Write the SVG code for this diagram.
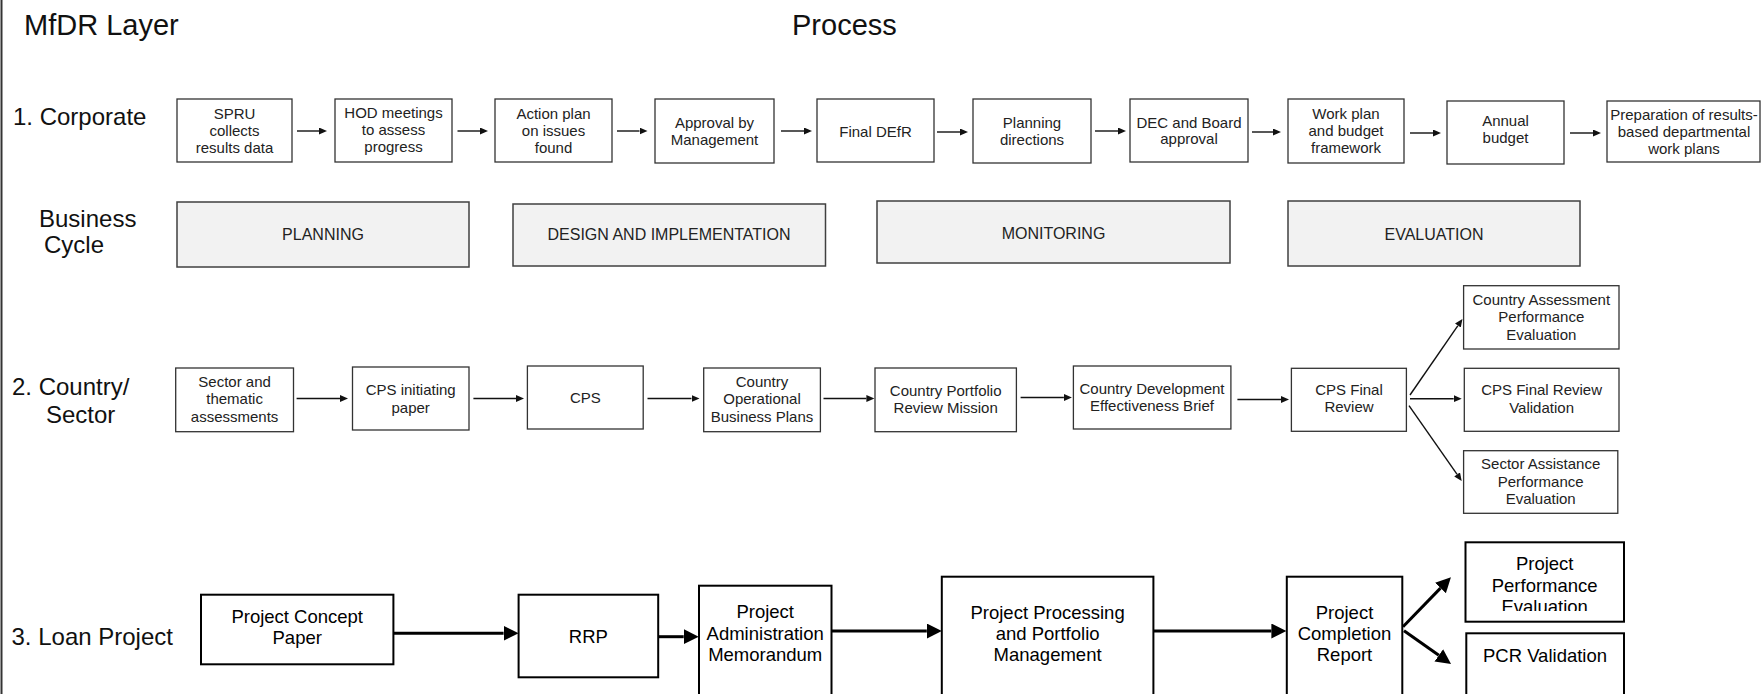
<svg xmlns="http://www.w3.org/2000/svg" width="1762" height="694" viewBox="0 0 1762 694">
<style>
text{font-family:"Liberation Sans",Arial,sans-serif;}
.lbl{font-size:24px;fill:#111;}
.ttl{font-size:29px;fill:#111;}
.bx{fill:#fff;stroke:#333;stroke-width:1.3;}
.bt{font-size:15px;fill:#222;text-anchor:middle;}
.cy{fill:#f2f2f2;stroke:#404040;stroke-width:1.5;}
.ct{font-size:16px;fill:#222;text-anchor:middle;}
.lb{fill:#fff;stroke:#000;stroke-width:2;}
.lt{font-size:18.5px;fill:#000;text-anchor:middle;}
.thin{stroke:#111;stroke-width:1.4;fill:none;}
.thick{stroke:#000;stroke-width:3;fill:none;}
</style>
<defs>
<marker id="ah" markerUnits="userSpaceOnUse" markerWidth="9" markerHeight="8" refX="0" refY="3.5" orient="auto">
<path d="M0,0 L8,3.5 L0,7 z" fill="#111"/>
</marker>
<marker id="ahL" markerUnits="userSpaceOnUse" markerWidth="16" markerHeight="16" refX="0" refY="7.5" orient="auto">
<path d="M0,0 L15,7.5 L0,15 z" fill="#000"/>
</marker>
<clipPath id="clipPPE"><rect x="1466" y="543" width="157" height="68"/></clipPath>
</defs>
<rect x="0" y="0" width="1762" height="694" fill="#fff"/>
<line x1="1.5" y1="0" x2="1.5" y2="694" stroke="#333" stroke-width="2"/>

<g id="labels">
<text class="ttl" x="24" y="35">MfDR Layer</text>
<text class="ttl" x="792" y="35">Process</text>
<text class="lbl" x="13" y="125">1. Corporate</text>
<text class="lbl" x="39" y="227">Business</text>
<text class="lbl" x="44" y="253">Cycle</text>
<text class="lbl" x="12" y="395">2. Country/</text>
<text class="lbl" x="46" y="422.5">Sector</text>
<text class="lbl" x="11.5" y="645">3. Loan Project</text>
</g>

<g id="corp1"><rect class="bx" x="177" y="99" width="115" height="63"/><text class="bt" x="234.5"><tspan x="234.5" y="118.5">SPRU</tspan><tspan x="234.5" y="135.5">collects</tspan><tspan x="234.5" y="152.5">results data</tspan></text></g>
<g id="corp2"><rect class="bx" x="335" y="99" width="117" height="63"/><text class="bt"><tspan x="393.5" y="118">HOD meetings</tspan><tspan x="393.5" y="135">to assess</tspan><tspan x="393.5" y="152">progress</tspan></text></g>
<g id="corp3"><rect class="bx" x="495" y="99" width="117" height="63"/><text class="bt"><tspan x="553.5" y="118.5">Action plan</tspan><tspan x="553.5" y="135.5">on issues</tspan><tspan x="553.5" y="152.5">found</tspan></text></g>
<g id="corp4"><rect class="bx" x="655" y="99" width="119" height="64"/><text class="bt"><tspan x="714.5" y="128">Approval by</tspan><tspan x="714.5" y="144.5">Management</tspan></text></g>
<g id="corp5"><rect class="bx" x="817" y="99" width="117" height="63"/><text class="bt" x="875.5" y="136.5">Final DEfR</text></g>
<g id="corp6"><rect class="bx" x="973" y="99" width="118" height="64"/><text class="bt"><tspan x="1032" y="128">Planning</tspan><tspan x="1032" y="144.5">directions</tspan></text></g>
<g id="corp7"><rect class="bx" x="1130" y="99" width="118" height="63"/><text class="bt"><tspan x="1189" y="127.7">DEC and Board</tspan><tspan x="1189" y="143.5">approval</tspan></text></g>
<g id="corp8"><rect class="bx" x="1288" y="99" width="116" height="64"/><text class="bt"><tspan x="1346" y="119">Work plan</tspan><tspan x="1346" y="135.7">and budget</tspan><tspan x="1346" y="152.7">framework</tspan></text></g>
<g id="corp9"><rect class="bx" x="1447" y="101" width="117" height="63"/><text class="bt"><tspan x="1505.5" y="126">Annual</tspan><tspan x="1505.5" y="143">budget</tspan></text></g>
<g id="corp10"><rect class="bx" x="1607" y="101" width="153" height="61"/><text class="bt"><tspan x="1684" y="119.5">Preparation of results-</tspan><tspan x="1684" y="137">based departmental</tspan><tspan x="1684" y="154">work plans</tspan></text></g>

<g id="cyc1"><rect class="cy" x="177" y="202" width="292" height="65"/><text class="ct" x="323" y="240">PLANNING</text></g>
<g id="cyc2"><rect class="cy" x="513" y="204" width="312.5" height="62"/><text class="ct" x="669" y="240">DESIGN AND IMPLEMENTATION</text></g>
<g id="cyc3"><rect class="cy" x="877" y="201" width="353" height="62"/><text class="ct" x="1053.5" y="238.5">MONITORING</text></g>
<g id="cyc4"><rect class="cy" x="1288" y="201" width="292" height="65"/><text class="ct" x="1434" y="239.5">EVALUATION</text></g>

<g id="ctry1"><rect class="bx" x="175.7" y="368" width="117.8" height="63.7"/><text class="bt"><tspan x="234.6" y="387.3">Sector and</tspan><tspan x="234.6" y="404">thematic</tspan><tspan x="234.6" y="421.5">assessments</tspan></text></g>
<g id="ctry2"><rect class="bx" x="352.5" y="367" width="116.5" height="63"/><text class="bt"><tspan x="410.7" y="395">CPS initiating</tspan><tspan x="410.7" y="412.5">paper</tspan></text></g>
<g id="ctry3"><rect class="bx" x="527.4" y="366" width="115.8" height="63"/><text class="bt" x="585.3" y="402.7">CPS</text></g>
<g id="ctry4"><rect class="bx" x="703.7" y="368" width="116.7" height="63.7"/><text class="bt"><tspan x="762" y="386.7">Country</tspan><tspan x="762" y="404">Operational</tspan><tspan x="762" y="421.7">Business Plans</tspan></text></g>
<g id="ctry5"><rect class="bx" x="875" y="368" width="141.4" height="63.7"/><text class="bt"><tspan x="945.7" y="395.7">Country Portfolio</tspan><tspan x="945.7" y="412.7">Review Mission</tspan></text></g>
<g id="ctry6"><rect class="bx" x="1073.4" y="366" width="157.5" height="63"/><text class="bt"><tspan x="1152" y="394">Country Development</tspan><tspan x="1152" y="411">Effectiveness Brief</tspan></text></g>
<g id="ctry7"><rect class="bx" x="1291.4" y="368.3" width="115" height="63"/><text class="bt"><tspan x="1349" y="395">CPS Final</tspan><tspan x="1349" y="412.3">Review</tspan></text></g>
<g id="ctry8"><rect class="bx" x="1463.6" y="285.7" width="155.4" height="63.3"/><text class="bt"><tspan x="1541.3" y="305">Country Assessment</tspan><tspan x="1541.3" y="322.3">Performance</tspan><tspan x="1541.3" y="339.7">Evaluation</tspan></text></g>
<g id="ctry9"><rect class="bx" x="1464.3" y="368.3" width="154.7" height="63"/><text class="bt"><tspan x="1541.6" y="395">CPS Final Review</tspan><tspan x="1541.6" y="412.7">Validation</tspan></text></g>
<g id="ctry10"><rect class="bx" x="1463.6" y="450.7" width="154.2" height="62.6"/><text class="bt"><tspan x="1540.7" y="469">Sector Assistance</tspan><tspan x="1540.7" y="486.7">Performance</tspan><tspan x="1540.7" y="504.3">Evaluation</tspan></text></g>

<g id="loan1"><rect class="lb" x="201" y="594.7" width="192.4" height="69.6"/><text class="lt"><tspan x="297.2" y="622.7">Project Concept</tspan><tspan x="297.2" y="644.3">Paper</tspan></text></g>
<g id="loan2"><rect class="lb" x="518.6" y="594.7" width="139.6" height="82.6"/><text class="lt" x="588.4" y="642.7">RRP</text></g>
<g id="loan3"><rect class="lb" x="699" y="585.7" width="132.5" height="130"/><text class="lt"><tspan x="765.2" y="618">Project</tspan><tspan x="765.2" y="639.5">Administration</tspan><tspan x="765.2" y="660.5">Memorandum</tspan></text></g>
<g id="loan4"><rect class="lb" x="941.8" y="576.7" width="211.6" height="140"/><text class="lt"><tspan x="1047.6" y="619">Project Processing</tspan><tspan x="1047.6" y="640">and Portfolio</tspan><tspan x="1047.6" y="661">Management</tspan></text></g>
<g id="loan5"><rect class="lb" x="1286.8" y="576.7" width="115.5" height="140"/><text class="lt"><tspan x="1344.5" y="619">Project</tspan><tspan x="1344.5" y="640">Completion</tspan><tspan x="1344.5" y="661">Report</tspan></text></g>
<g id="loan6"><rect class="lb" x="1465.5" y="542.3" width="158.5" height="79.4"/><text class="lt" clip-path="url(#clipPPE)"><tspan x="1544.7" y="570">Project</tspan><tspan x="1544.7" y="591.5">Performance</tspan><tspan x="1544.7" y="613">Evaluation</tspan></text></g>
<g id="loan7"><rect class="lb" x="1466.3" y="633.3" width="157.7" height="90"/><text class="lt" x="1545" y="661.7">PCR Validation</text></g>

<g id="connectors">
<line class="thin" x1="297" y1="131" x2="319" y2="131" marker-end="url(#ah)"/>
<line class="thin" x1="457.5" y1="131" x2="480" y2="131" marker-end="url(#ah)"/>
<line class="thin" x1="617" y1="131" x2="639.5" y2="131" marker-end="url(#ah)"/>
<line class="thin" x1="781" y1="131" x2="804" y2="131" marker-end="url(#ah)"/>
<line class="thin" x1="937" y1="132" x2="960" y2="132" marker-end="url(#ah)"/>
<line class="thin" x1="1095" y1="131" x2="1118" y2="131" marker-end="url(#ah)"/>
<line class="thin" x1="1252" y1="132" x2="1273" y2="132" marker-end="url(#ah)"/>
<line class="thin" x1="1410" y1="133" x2="1433" y2="133" marker-end="url(#ah)"/>
<line class="thin" x1="1570" y1="133" x2="1593" y2="133" marker-end="url(#ah)"/>

<line class="thin" x1="296.6" y1="398.5" x2="340" y2="398.5" marker-end="url(#ah)"/>
<line class="thin" x1="473.4" y1="398.5" x2="516" y2="398.5" marker-end="url(#ah)"/>
<line class="thin" x1="647.5" y1="398.5" x2="691.5" y2="398.5" marker-end="url(#ah)"/>
<line class="thin" x1="823.5" y1="398.5" x2="866.4" y2="398.5" marker-end="url(#ah)"/>
<line class="thin" x1="1020.6" y1="397.5" x2="1063.9" y2="397.5" marker-end="url(#ah)"/>
<line class="thin" x1="1237.4" y1="399.5" x2="1281" y2="399.5" marker-end="url(#ah)"/>
<line class="thin" x1="1410" y1="395" x2="1457.9" y2="325.6" marker-end="url(#ah)"/>
<line class="thin" x1="1410" y1="398.7" x2="1453.7" y2="398.7" marker-end="url(#ah)"/>
<line class="thin" x1="1409" y1="405.7" x2="1457.1" y2="474.4" marker-end="url(#ah)"/>

<line class="thick" x1="393.4" y1="633.3" x2="503.6" y2="633.3" marker-end="url(#ahL)"/>
<line class="thick" x1="658.2" y1="636.7" x2="683.7" y2="636.7" marker-end="url(#ahL)"/>
<line class="thick" x1="831.5" y1="631" x2="926.8" y2="631" marker-end="url(#ahL)"/>
<line class="thick" x1="1153.4" y1="631" x2="1271.4" y2="631" marker-end="url(#ahL)"/>
<line class="thick" x1="1403" y1="626.7" x2="1440.5" y2="588.1" marker-end="url(#ahL)"/>
<line class="thick" x1="1404" y1="630.7" x2="1438.8" y2="655.3" marker-end="url(#ahL)"/>
</g>
</svg>
